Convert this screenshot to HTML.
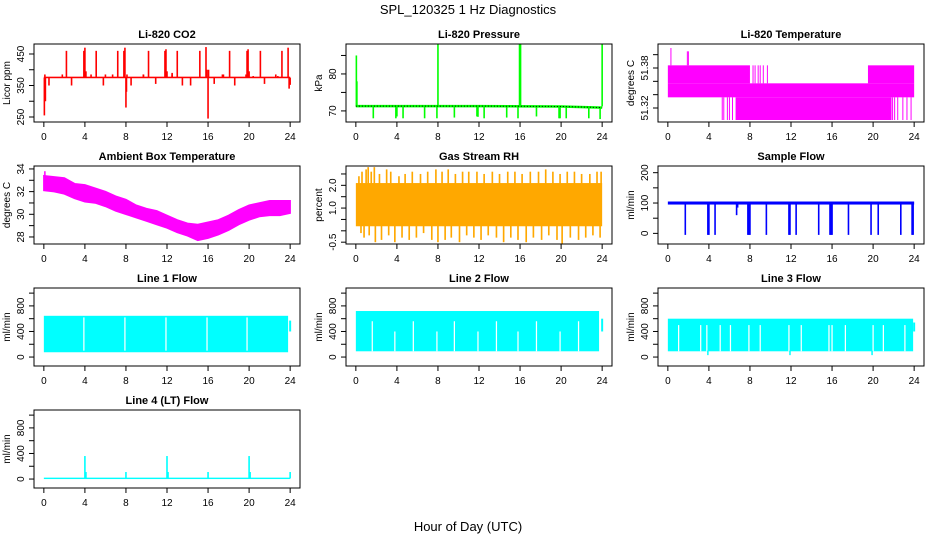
<!DOCTYPE html>
<html><head><meta charset="utf-8"><style>
body{margin:0;background:#fff;}
svg text{font-family:"Liberation Sans",Arial,sans-serif;}
</style></head><body>
<svg id="c" width="936" height="540" xmlns="http://www.w3.org/2000/svg">
<text x="468" y="14" text-anchor="middle" font-size="13">SPL_120325  1 Hz Diagnostics</text>
<text x="468" y="531" text-anchor="middle" font-size="13">Hour of Day (UTC)</text>
</svg>
<script>
// ---- data ----
const xTicks=[0,4,8,12,16,20,24];
// CO2
const co2Base=[373,378];
const co2SpikeHours=[0.05,0.1,0.15,2.2,3.9,4.0,4.1,5.1,7.2,7.8,7.9,8.0,8.05,8.1,10.2,11.8,11.9,12.0,13.0,15.2,15.8,15.9,16.0,16.05,18.1,19.8,19.9,20.0,21.1,23.2,23.8,23.9,0.5,2.7,4.6,5.8,6.7,8.5,9.7,10.9,12.5,13.5,14.3,16.6,17.5,18.6,19.7,20.4,21.5,22.8,24.0,1.8,6.0,9.7,12.5,17.4,22.6];
const co2SpikeVals=[255,385,300,460,460,470,395,460,460,460,470,280,330,385,460,460,465,395,460,460,472,400,245,400,460,460,465,395,460,460,470,340,350,350,385,350,385,350,385,355,385,350,350,355,385,350,385,380,355,380,352,385,385,385,390,385,385];
// Pressure
const presBaseHours=[0,12,20,24];
const presBaseVals=[71.3,71.3,71.2,70.9];
const presSpikeHours=[0.05,0.1,8.0,16.0,15.95,16.05,24.0,1.7,3.9,4.0,4.6,6.7,7.9,9.6,11.8,11.9,12.5,14.7,15.8,17.6,19.8,19.9,20.5,22.7,23.8];
const presSpikeVals=[85,78,88,88,88,88,88,68,68,68.5,68,68,68,68.2,68.5,68.4,68,68.2,68,68.5,68,68,68,68,67.8];
// Li-820 temperature: blocks [start,end,low,high]
const tempBlkStart=[0,0,19.5,6.6];
const tempBlkEnd=[24,8,24,21.8];
const tempBlkLow=[51.336,51.357,51.357,51.302];
const tempBlkHigh=[51.357,51.384,51.384,51.336];
const tempStripeHours=[5.3,5.45,5.8,6.0,6.3,8.3,8.5,8.8,9.0,9.3,9.7,21.9,22.1,22.4,22.9,23.3,23.7,0.3,1.9,2.0];
const tempStripeLow=[51.302,51.302,51.302,51.302,51.302,51.357,51.357,51.357,51.357,51.357,51.357,51.302,51.302,51.302,51.302,51.302,51.302,51.384,51.384,51.384];
const tempStripeHigh=[51.336,51.336,51.336,51.336,51.336,51.384,51.384,51.384,51.384,51.384,51.384,51.336,51.336,51.336,51.336,51.336,51.336,51.41,51.405,51.405];
// Ambient box temperature
const ambHours=[0,1,2,3,4,5,6,7,8,9,10,11,12,13,14,15,16,17,18,19,20,21,22,23,24];
const ambHigh=[33.4,33.3,33.2,32.7,32.6,32.3,32.0,31.6,31.3,30.8,30.5,30.3,29.9,29.5,29.2,29.1,29.3,29.5,29.9,30.4,30.8,31.0,31.2,31.2,31.2];
const ambLow=[32.1,32.0,31.8,31.4,31.1,31.0,30.7,30.3,30.0,29.7,29.4,29.1,28.8,28.4,28.1,27.7,27.9,28.2,28.6,29.1,29.5,29.8,29.9,29.9,30.1];
// Gas stream RH
const rhBand=[0.2,2.1];
const rhUpHours=[0.3,0.6,1.0,1.2,1.5,1.8,2.3,3.0,3.4,4.2,4.8,5.5,6.3,7.0,7.8,8.4,9.0,9.7,10.4,11.0,11.8,12.5,13.3,14.0,14.8,15.5,16.2,17.0,17.8,18.5,19.2,19.9,20.6,21.3,22.0,22.8,23.5,23.9];
const rhUpVals=[2.4,2.6,2.7,2.8,2.6,2.8,2.5,2.7,2.6,2.4,2.5,2.6,2.5,2.6,2.7,2.6,2.7,2.5,2.6,2.6,2.6,2.5,2.6,2.5,2.6,2.6,2.5,2.6,2.6,2.7,2.6,2.5,2.6,2.6,2.5,2.5,2.6,2.6];
const rhDnHours=[0.5,0.8,1.3,1.9,2.5,3.2,3.8,4.5,5.2,5.9,6.6,7.4,8.0,8.7,9.3,10.1,10.8,11.5,12.2,12.9,13.7,14.4,15.1,15.8,16.6,17.3,18.1,18.8,19.6,20.1,20.9,21.7,22.4,23.1,23.8];
const rhDnVals=[-0.1,-0.3,-0.2,-0.5,-0.4,-0.2,-0.5,-0.3,-0.4,-0.3,-0.1,-0.4,-0.5,-0.4,-0.3,-0.5,-0.2,-0.3,-0.4,-0.2,-0.3,-0.5,-0.3,-0.4,-0.5,-0.3,-0.4,-0.2,-0.4,-0.6,-0.3,-0.4,-0.3,-0.2,-0.3];
// Sample flow
const sfBase=[95,105];
const sfDropHours=[1.7,3.9,4.0,4.6,6.7,6.8,7.8,7.9,8.0,9.6,11.8,11.9,12.5,14.7,15.8,15.9,16.0,17.6,19.8,20.5,22.7,23.8,23.9];
const sfDropVals=[-5,-5,-5,-5,60,85,-5,-5,-5,-5,-5,-5,-5,-5,-5,-5,-5,-5,-5,-5,-5,-5,-5];
// Line flows
const l1Band=[75,645];
const l1End=23.8;
const l1GapHours=[3.9,7.9,11.9,15.9,19.8];
const l1GapLow=[100,100,100,100,100];
const l1GapHigh=[620,620,620,620,620];
const l1Tail=[24.0,400,570];
const l2Band=[90,720];
const l2End=23.7;
const l2GapHours=[1.6,3.8,5.6,7.9,9.6,11.9,13.7,15.8,17.6,19.9,21.7];
const l2GapLow=[90,90,90,90,90,90,90,90,90,90,90];
const l2GapHigh=[560,400,560,400,560,400,560,400,560,400,560];
const l2Tail=[24.0,400,600];
const l3Band=[90,600];
const l3End=23.9;
const l3GapHours=[1.05,3.2,3.8,5.1,6.1,7.9,9.0,11.8,13.0,15.7,16.0,17.3,20.0,21.0,23.1];
const l3GapLow=[90,90,90,90,90,90,90,90,90,90,90,90,90,90,90];
const l3GapHigh=[500,500,500,500,500,500,500,500,500,500,500,500,500,500,500];
const l3Dips=[3.9,11.9,19.9];
const l3DipVals=[30,30,30];
const l3Tail=[24.0,400,540];
const l4Base=[0,22];
const l4SpikeHours=[4.0,12.0,20.0,4.1,8.0,12.1,16.0,20.1,24.0];
const l4SpikeVals=[360,360,360,110,110,110,110,110,110];

// ---- drawing ----
const svg=document.getElementById('c');
const NS='http://www.w3.org/2000/svg';
function mk(tag,attrs,parent){const e=document.createElementNS(NS,tag);for(const k in attrs)e.setAttribute(k,attrs[k]);(parent||svg).appendChild(e);return e;}
const colL=[34,346,658],rowT=[44,166,288,410],W=266,H=78;
const RH='#FFA800';
function panel(c,r,title,ylab,top,bot,ticks,labels,name){
  const L=colL[c],T=rowT[r];
  const g=mk('g',{});
  
  
  const x=h=>L+(h+0.96)/25.92*W;
  const y=v=>T+(top-v)/(top-bot)*H;
  const plot=mk('g',{},g);
  
  
  const box=mk('rect',{x:L,y:T,width:W,height:H,fill:'none',stroke:'#000','stroke-width':1},g);
  
  
  const t=mk('text',{x:L+W/2,y:T-6,'text-anchor':'middle','font-size':11,'font-weight':'bold'},g);
  t.textContent=title;
  
  
  const xa=mk('g',{},g);
  
  
  xTicks.forEach(h=>{
    mk('line',{x1:x(h),x2:x(h),y1:T+H,y2:T+H+5,stroke:'#000'},xa);
    const tl=mk('text',{x:x(h),y:T+H+18,'text-anchor':'middle','font-size':10},xa);
    tl.textContent=h;
  });
  const ya=mk('g',{},g);
  
  
  ticks.forEach(v=>{mk('line',{x1:L-5,x2:L,y1:y(v),y2:y(v),stroke:'#000'},ya);});
  labels.forEach(v=>{
    const tl=mk('text',{x:L-10,y:y(v),'text-anchor':'middle','font-size':10,transform:`rotate(-90 ${L-10} ${y(v)})`},ya);
    tl.textContent=v;
  });
  const yl=mk('text',{x:L-24,y:T+H/2,'text-anchor':'middle','font-size':10,transform:`rotate(-90 ${L-24} ${T+H/2})`},g);
  yl.textContent=ylab;
  
  
  return {x,y,g:plot};
}
function rect(p,h0,h1,v0,v1,fill){mk('rect',{x:p.x(h0),y:p.y(v1),width:Math.max(0.8,p.x(h1)-p.x(h0)),height:Math.max(1,p.y(v0)-p.y(v1)),fill},p.g);}
function vline(p,h,v0,v1,col,w){mk('line',{x1:p.x(h),x2:p.x(h),y1:p.y(v0),y2:p.y(v1),stroke:col,'stroke-width':w||1.5},p.g);}

// CO2
let p=panel(0,0,'Li-820 CO2','Licor ppm',481.7,234.1,[250,300,350,400,450],[250,350,450],'co2');
rect(p,0,24,co2Base[0],co2Base[1],'#FF0000');
co2SpikeHours.forEach((h,i)=>vline(p,h,375,co2SpikeVals[i],'#FF0000',1.6));
// Pressure
p=panel(1,0,'Li-820 Pressure','kPa',88.1,67.0,[70,75,80,85],[70,80],'pressure');
presSpikeHours.forEach((h,i)=>vline(p,h,71.2,presSpikeVals[i],'#00FF00',1.6));
const pp=presBaseHours.map((h,i)=>p.x(h)+','+p.y(presBaseVals[i])).join(' ');
mk('polyline',{points:pp,fill:'none',stroke:'#00FF00','stroke-width':2.5},p.g);
mk('polyline',{points:pp,fill:'none',stroke:'#000','stroke-width':1,'stroke-dasharray':'1 2'},p.g);
// Temperature
p=panel(2,0,'Li-820 Temperature','degrees C',51.416,51.299,[51.32,51.34,51.36,51.38,51.40],[51.32,51.38],'li820-temp');
tempBlkStart.forEach((s,i)=>rect(p,s,tempBlkEnd[i],tempBlkLow[i],tempBlkHigh[i],'#FF00FF'));
tempStripeHours.forEach((h,i)=>vline(p,h,tempStripeLow[i],tempStripeHigh[i],'#FF00FF',1));
// Ambient
p=panel(0,1,'Ambient Box Temperature','degrees C',34.26,27.38,[28,29,30,31,32,33,34],[28,30,32,34],'ambient-temp');
const ap=ambHours.map((h,i)=>p.x(h)+','+p.y(ambHigh[i])).concat(ambHours.slice().reverse().map((h,j)=>p.x(h)+','+p.y(ambLow[ambHours.length-1-j]))).join(' ');
mk('polygon',{points:ap,fill:'#FF00FF',stroke:'#FF00FF','stroke-width':1.5},p.g);
vline(p,0.1,32.5,33.8,'#FF00FF',1.5);
// RH
p=panel(1,1,'Gas Stream RH','percent',2.85,-0.58,[-0.5,0,0.5,1,1.5,2,2.5],[-0.5,'1.0','2.0'],'gas-rh');
rect(p,0,24,rhBand[0],rhBand[1],RH);
rhUpHours.forEach((h,i)=>rect(p,h-0.08,h+0.08,1.5,rhUpVals[i],RH));
rhDnHours.forEach((h,i)=>rect(p,h-0.08,h+0.08,rhDnVals[i],0.8,RH));
// Sample flow
p=panel(2,1,'Sample Flow','ml/min',222,-35,[0,50,100,150,200],[0,100,200],'sample-flow');
rect(p,0,24,sfBase[0],sfBase[1],'#0000FF');
sfDropHours.forEach((h,i)=>vline(p,h,100,sfDropVals[i],'#0000FF',1.6));
// Line flows
const ft=[0,200,400,600,800,1000],fl=[0,400,800];
function lineFlow(c,r,title,name,band,end,gh,glo,ghi,tail){
  const q=panel(c,r,title,'ml/min',1080,-140,ft,fl,name);
  rect(q,0,end,band[0],band[1],'#00FFFF');
  gh.forEach((h,i)=>rect(q,h-0.06,h+0.06,glo[i],ghi[i],'#FFFFFF'));
  vline(q,tail[0],tail[1],tail[2],'#00FFFF',2);
  return q;
}
lineFlow(0,2,'Line 1 Flow','line1-flow',l1Band,l1End,l1GapHours,l1GapLow,l1GapHigh,l1Tail);
lineFlow(1,2,'Line 2 Flow','line2-flow',l2Band,l2End,l2GapHours,l2GapLow,l2GapHigh,l2Tail);
p=lineFlow(2,2,'Line 3 Flow','line3-flow',l3Band,l3End,l3GapHours,l3GapLow,l3GapHigh,l3Tail);
l3Dips.forEach((h,i)=>vline(p,h,100,l3DipVals[i],'#00FFFF',1.5));
p=panel(0,3,'Line 4 (LT) Flow','ml/min',1080,-140,ft,fl,'line4-flow');
rect(p,0,24,l4Base[0],l4Base[1],'#00FFFF');
l4SpikeHours.forEach((h,i)=>vline(p,h,10,l4SpikeVals[i],'#00FFFF',1.6));
</script>
</body></html>
